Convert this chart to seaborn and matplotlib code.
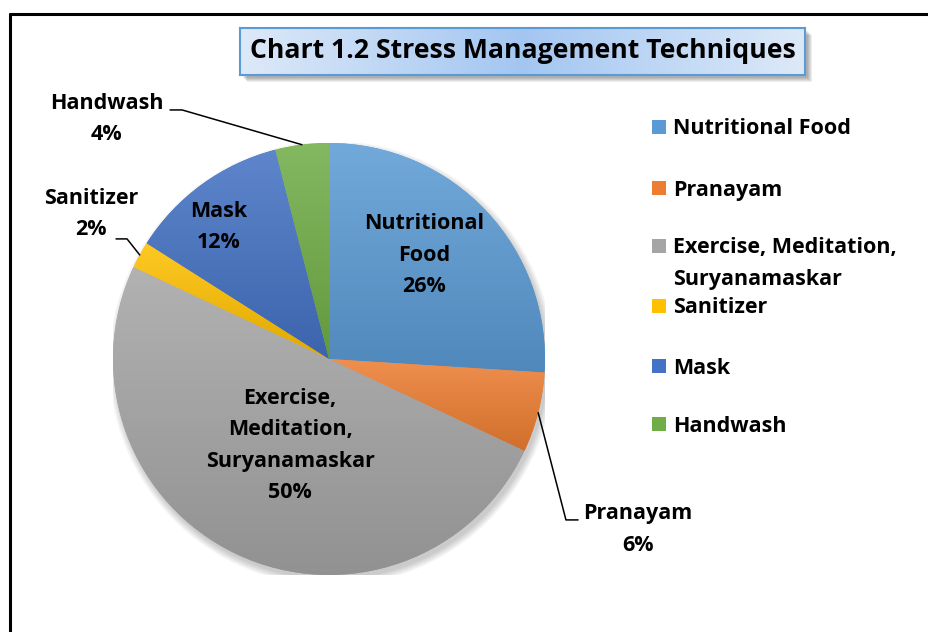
import numpy as np
import matplotlib
matplotlib.use("Agg")
import matplotlib.pyplot as plt
import matplotlib.colors as mcolors
from matplotlib.patches import Rectangle, Circle
from matplotlib.lines import Line2D
import seaborn as sns

# ---- data ----
techniques = ["Nutritional Food", "Pranayam", "Exercise, Meditation, Suryanamaskar",
              "Sanitizer", "Mask", "Handwash"]
shares = [26, 6, 50, 2, 12, 4]
slice_labels = ["Nutritional\nFood", "Pranayam", "Exercise,\nMeditation,\nSuryanamaskar",
                "Sanitizer", "Mask", "Handwash"]
legend_lines = [["Nutritional Food"], ["Pranayam"], ["Exercise, Meditation,", "Suryanamaskar"],
                ["Sanitizer"], ["Mask"], ["Handwash"]]
base_colors = ["#5b9bd5", "#ed7d31", "#a5a5a5", "#ffc000", "#4472c4", "#70ad47"]
title = "Chart 1.2 Stress Management Techniques"

# ---- layout (pie data units, r = 1) ----
label_pos = [(0.44, 0.48), (1.43, -0.79), (-0.18, -0.40), (-1.10, 0.67), (-0.51, 0.61), (-1.03, 1.11)]
leader_elbow = [None, (1.097, -0.745), None, (-0.935, 0.556), None, (-0.68, 1.153)]
leader_end = [None, (1.153, -0.745), None, (-0.986, 0.556), None, (-0.736, 1.153)]
legend_rows_px = [127, 188, 246, 306, 366, 424]

W, H = 929, 632
FONT = ["Open Sans", "DejaVu Sans"]
sns.set_theme(style="white")
plt.rcParams["font.family"] = FONT
palette = sns.color_palette(base_colors)

fig = plt.figure(figsize=(W / 100, H / 100), dpi=100)
fig.patch.set_facecolor("white")

# frame lines (left + top)
fig.add_artist(Line2D([10 / W, 10 / W], [0, 1 - 14 / H], color="black", lw=2.2))
fig.add_artist(Line2D([10 / W, 1], [1 - 14 / H, 1 - 14 / H], color="black", lw=2.2))

cx, cy, r = 329, 359, 216
ax = fig.add_axes([(cx - r) / W, (H - cy - r) / H, 2 * r / W, 2 * r / H])

# soft shadow under the pie
for i in range(6):
    ax.add_patch(Circle((0.012, -0.02), 1.0 + 0.006 * i, color="black",
                        alpha=0.035, lw=0, zorder=0))

wedges, _ = ax.pie(shares, colors=palette, startangle=90, counterclock=False,
                   radius=1, wedgeprops=dict(linewidth=0))

# vertical gradient inside each slice (lighter on top)
for w, col in zip(wedges, palette):
    verts = w.get_patch_transform().transform(w.get_path().vertices)
    x0, y0 = verts.min(axis=0)
    x1, y1 = verts.max(axis=0)
    c = np.array(mcolors.to_rgb(col))
    light = c + (1 - c) * 0.14
    dark = c * 0.88
    t = np.linspace(0, 1, 64)[:, None]
    grad = light[None, :] * (1 - t) + dark[None, :] * t
    img = ax.imshow(grad[:, None, :], extent=[x0, x1, y0, y1], origin="upper",
                    aspect="auto", interpolation="bilinear", zorder=2)
    img.set_clip_path(w)

ax.set_xlim(-1, 1)
ax.set_ylim(-1, 1)
ax.set_aspect("auto")
ax.axis("off")

# data labels
for i, (w, lab, val) in enumerate(zip(wedges, slice_labels, shares)):
    lx, ly = label_pos[i]
    ax.text(lx, ly, f"{lab}\n{val}%", ha="center", va="center", fontsize=15.5,
            fontweight="bold", color="black", linespacing=1.65, zorder=5)
    if leader_elbow[i] is not None:
        mid = np.deg2rad((w.theta1 + w.theta2) / 2)
        sx, sy = np.cos(mid), np.sin(mid)
        ex, ey = leader_elbow[i]
        tx, ty = leader_end[i]
        ax.add_line(Line2D([sx, ex, tx], [sy, ey, ty], color="black", lw=1.1,
                           clip_on=False, zorder=5))

# title box with gradient and shadow
bx0, by0, bx1, by1 = 240, 28, 805, 75
for k in range(5):
    fig.add_artist(Rectangle(((bx0 + 3 + k) / W, 1 - (by1 + 3 + k) / H),
                             (bx1 - bx0) / W, (by1 - by0) / H,
                             facecolor="black", alpha=0.07, lw=0, zorder=-1))
tax = fig.add_axes([bx0 / W, 1 - by1 / H, (bx1 - bx0) / W, (by1 - by0) / H])
edge_c = np.array(mcolors.to_rgb("#dde9f8"))
mid_c = np.array(mcolors.to_rgb("#a3c6f1"))
u = np.abs(np.linspace(-1, 1, 200))[None, :, None]
tgrad = mid_c * (1 - u) + edge_c * u
tax.imshow(tgrad, aspect="auto", extent=[0, 1, 0, 1])
tax.set_xticks([])
tax.set_yticks([])
for s in tax.spines.values():
    s.set_visible(True)
    s.set_color("#5b9bd5")
    s.set_linewidth(1.5)
tax.text(0.5, 0.5, title, ha="center", va="center", fontsize=19.2,
         fontweight="bold", color="black", transform=tax.transAxes)

# legend
for lines, col, ypx in zip(legend_lines, palette, legend_rows_px):
    fig.add_artist(Rectangle((652 / W, 1 - (ypx + 7) / H), 14 / W, 14 / H,
                             facecolor=col, lw=0))
    for j, line in enumerate(lines):
        fig.text(673 / W, 1 - (ypx + 2 + 31 * j) / H, line, ha="left", va="center",
                 fontsize=15.5, fontweight="bold", color="black")

fig.savefig("out.png", dpi=100)
